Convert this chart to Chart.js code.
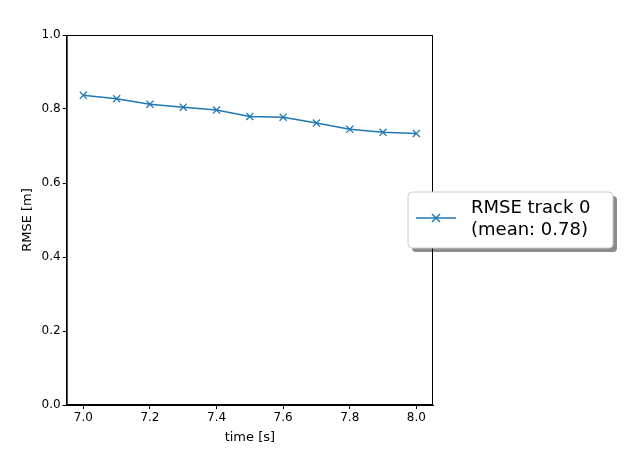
<!DOCTYPE html>
<html>
<head>
<script src="https://cdn.jsdelivr.net/npm/chart.js@4/dist/chart.umd.min.js"></script>
<style>body{margin:0;background:#fff}#c{display:block}</style>
</head>
<body>
<canvas id="c" width="624" height="452"></canvas>
<script>
var times = [7.0, 7.1, 7.2, 7.3, 7.4, 7.5, 7.6, 7.7, 7.8, 7.9, 8.0];
var rmse = [0.837, 0.828, 0.813, 0.805, 0.797, 0.780, 0.778, 0.762, 0.745, 0.737, 0.734];
var legendLines = ['RMSE track 0', '(mean: 0.78)'];
var blue = '#1f77b4';

var frame = {
    id: 'frame',
    afterDraw: function(chart) {
        var ctx = chart.ctx, a = chart.chartArea;
        ctx.save();
        ctx.strokeStyle = '#000';
        ctx.lineWidth = 1;
        ctx.strokeRect(a.left + 0.5, a.top + 0.5, a.right - a.left - 1, a.bottom - a.top - 1);
        // legend box
        var x = 408, y = 192, w = 205, h = 56;
        ctx.fillStyle = 'rgba(0,0,0,0.45)';
        ctx.beginPath(); ctx.roundRect(x + 4, y + 4, w, h, 4); ctx.fill();
        ctx.fillStyle = '#fff';
        ctx.strokeStyle = '#ccc';
        ctx.beginPath(); ctx.roundRect(x, y, w, h, 4); ctx.fill(); ctx.stroke();
        ctx.strokeStyle = blue; ctx.lineWidth = 1.5;
        ctx.beginPath(); ctx.moveTo(416, 218); ctx.lineTo(456, 218); ctx.stroke();
        ctx.beginPath(); ctx.moveTo(432, 214); ctx.lineTo(440, 222); ctx.moveTo(440, 214); ctx.lineTo(432, 222); ctx.stroke();
        ctx.fillStyle = '#000';
        ctx.font = '18px "DejaVu Sans"';
        ctx.textBaseline = 'middle';
        ctx.fillText(legendLines[0], 471, 208);
        ctx.fillText(legendLines[1], 471, 230);
        ctx.restore();
    }
};

new Chart(document.getElementById('c'), {
    type: 'line',
    data: {
        datasets: [{
            data: times.map(function(t, i) { return {x: t, y: rmse[i]}; }),
            borderColor: blue,
            borderWidth: 1.5,
            pointStyle: 'crossRot',
            pointRadius: 5,
            pointBorderColor: blue,
            pointBorderWidth: 1.3,
            fill: false
        }]
    },
    options: {
        responsive: false,
        animation: false,
        layout: {padding: {top: 35, right: 191, left: 16, bottom: 5}},
        plugins: {legend: {display: false}, tooltip: {enabled: false}},
        scales: {
            x: {
                type: 'linear', min: 6.95, max: 8.05,
                afterBuildTicks: function(s) { s.ticks = [7.0, 7.2, 7.4, 7.6, 7.8, 8.0].map(function(v) { return {value: v}; }); },
                ticks: {color: '#000', font: {family: 'DejaVu Sans', size: 12}, callback: function(v) { return v.toFixed(1); }, padding: 2},
                grid: {drawOnChartArea: false, tickLength: 4, color: '#000'},
                border: {color: '#000'},
                title: {display: true, text: 'time [s]', color: '#000', font: {family: 'DejaVu Sans', size: 13}, padding: 2}
            },
            y: {
                min: 0, max: 1,
                ticks: {stepSize: 0.2, color: '#000', font: {family: 'DejaVu Sans', size: 12}, callback: function(v) { return v.toFixed(1); }, padding: 2},
                grid: {drawOnChartArea: false, tickLength: 4, color: '#000'},
                border: {color: '#000'},
                title: {display: true, text: 'RMSE [m]', color: '#000', font: {family: 'DejaVu Sans', size: 13}, padding: 4}
            }
        }
    },
    plugins: [frame]
});
</script>
</body>
</html>
